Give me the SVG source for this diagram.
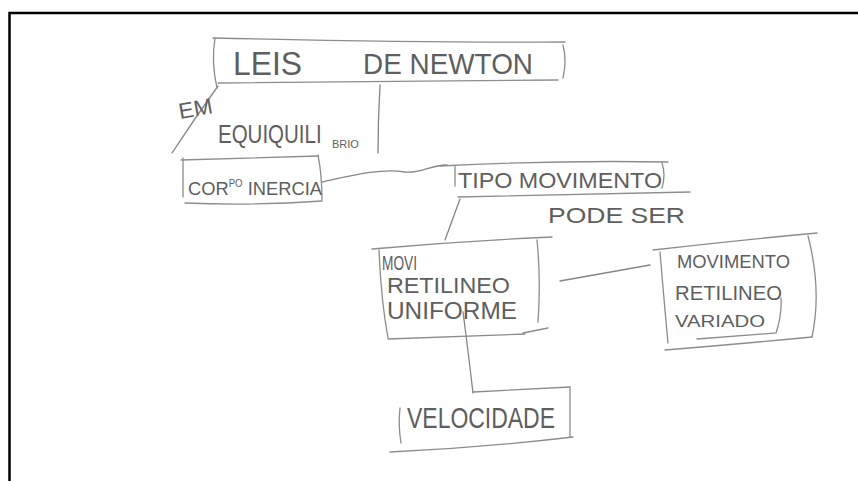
<svg xmlns="http://www.w3.org/2000/svg" width="858" height="481" viewBox="0 0 858 481">
<style>
.box{fill:none;stroke:#8c8c8c;stroke-width:1.3;stroke-linecap:round}
.con{fill:none;stroke:#858585;stroke-width:1.3;stroke-linecap:round}
.t{font-family:"Liberation Sans","DejaVu Sans",sans-serif;fill:#5e5e5e}
</style>
<rect width="858" height="481" fill="#fff"/>
<path d="M9.5,481 V13 H858" fill="none" stroke="#000" stroke-width="2.5"/>
<g id="connectors">
<path class="con" d="M218,86 Q195,118 172,153"/>
<text class="t" x="180" y="119" font-size="22" textLength="34" lengthAdjust="spacingAndGlyphs" transform="rotate(-10 180 119)">EM</text>
<text class="t" x="0" y="0" font-size="20.5" transform="translate(218,143) scale(1,1.3)">EQUIQUILI</text>
<text class="t" x="332" y="148" font-size="11">BRIO</text>
<path class="con" d="M380,85 Q378,120 378,153"/>
<path class="con" d="M322,182 C350,176 380,168 405,172 C420,174 430,165 447,165"/>
<path class="con" d="M460,199 L445,240"/>
<text class="t" x="548" y="223" font-size="22" textLength="137" lengthAdjust="spacingAndGlyphs">PODE SER</text>
<path class="con" d="M560,281 L650,265"/>
<path class="con" d="M463,312 Q468,350 473,393" stroke="#333" stroke-width="1.6"/>
</g>
<g id="leis">
<path class="box" d="M213,38 C300,40 450,43 565,42"/>
<path class="box" d="M215,38 Q211,62 217,88"/>
<path class="box" d="M218,83 L558,80"/>
<path class="box" d="M563,45 Q567,60 563,78"/>
<text class="t" x="233" y="75" font-size="34" textLength="69" lengthAdjust="spacingAndGlyphs">LEIS</text>
<text class="t" x="363" y="74" font-size="30" textLength="170" lengthAdjust="spacingAndGlyphs">DE NEWTON</text>
</g>
<g id="corpo">
<path class="box" d="M181,160 L318,156"/>
<path class="box" d="M183,158 V197"/>
<path class="box" d="M185,203 Q250,206 322,201"/>
<path class="box" d="M318,155 Q322,175 322,200"/>
<text class="t" x="188" y="195" font-size="19" textLength="134" lengthAdjust="spacingAndGlyphs">COR<tspan font-size="10" dy="-8">PO</tspan><tspan dy="8"> INERCIA</tspan></text>
</g>
<g id="tipo">
<path class="box" d="M440,166 Q560,160 668,162"/>
<path class="box" d="M455,166 V186"/>
<path class="box" d="M458,197 L690,192"/>
<path class="box" d="M662,163 Q666,175 662,188"/>
<text class="t" x="458" y="188" font-size="22" textLength="204" lengthAdjust="spacingAndGlyphs">TIPO MOVIMENTO</text>
</g>
<g id="mru">
<path class="box" d="M372,249 Q460,241 552,237"/>
<path class="box" d="M379,250 Q381,300 388,338"/>
<path class="box" d="M388,339 L525,334"/>
<path class="box" d="M523,333 L548,328"/>
<path class="box" d="M537,240 Q541,280 538,322"/>
<text class="t" x="382" y="270" font-size="20" textLength="35" lengthAdjust="spacingAndGlyphs">MOVI</text>
<text class="t" x="387" y="293" font-size="22" textLength="123" lengthAdjust="spacingAndGlyphs">RETILINEO</text>
<text class="t" x="387" y="319" font-size="24" textLength="130" lengthAdjust="spacingAndGlyphs">UNIFORME</text>
</g>
<g id="mrv">
<path class="box" d="M653,250 Q740,240 817,233"/>
<path class="box" d="M660,252 Q664,300 668,343"/>
<path class="box" d="M808,236 Q822,290 812,337"/>
<path class="box" d="M697,339 L776,333 Q782,315 781,298"/>
<path class="box" d="M665,350 Q740,344 812,337"/>
<text class="t" x="677" y="268" font-size="18" textLength="113" lengthAdjust="spacingAndGlyphs">MOVIMENTO</text>
<text class="t" x="675" y="300" font-size="20" textLength="107" lengthAdjust="spacingAndGlyphs">RETILINEO</text>
<text class="t" x="675" y="327" font-size="16" textLength="90" lengthAdjust="spacingAndGlyphs" fill="#7a7a7a">VARIADO</text>
</g>
<g id="velocidade">
<path class="box" d="M473,392 L570,387"/>
<path class="box" d="M570,387 V437"/>
<path class="box" d="M400,408 Q398,425 401,443"/>
<path class="box" d="M390,452 Q480,448 573,437"/>
<text class="t" x="407" y="428" font-size="30" textLength="148" lengthAdjust="spacingAndGlyphs">VELOCIDADE</text>
</g>
</svg>
